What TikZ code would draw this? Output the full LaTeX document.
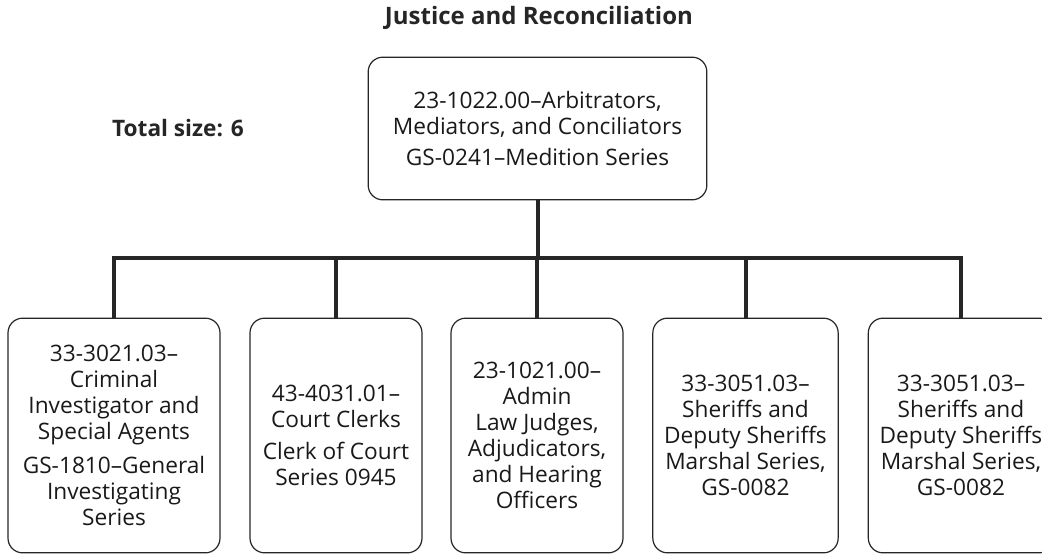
\documentclass[tikz,border=0pt]{standalone}
\usepackage{fontspec}
\setmainfont{Open Sans}
\usetikzlibrary{positioning}

\tikzset{
  jobbox/.style={draw=black!85, line width=0.9pt, rounded corners=11pt,
    align=center, inner sep=2pt, text=black!90, font=\fontsize{17}{19.5}\selectfont},
  link/.style={line width=3pt, draw=black!85},
  heading/.style={font=\fontsize{17}{19.5}\selectfont\bfseries, text=black!85}
}

\begin{document}
\begin{tikzpicture}[x=0.75pt,y=-0.75pt]
\useasboundingbox (0,0) rectangle (1042,554);

% Title and size
\node[heading, font=\fontsize{18}{20}\selectfont\bfseries] (title) at (539,18) {Justice and Reconciliation};
\node[heading] (size) at (178,128) {Total size: 6};

% Top box
\node[jobbox, minimum width=254pt, minimum height=107pt] (top) at (537.5,128.5)
  {23-1022.00--Arbitrators,\\ Mediators, and Conciliators\\[4pt] GS-0241--Medition Series};

% Lower boxes
\node[jobbox, minimum width=159pt, minimum height=176pt] (c1) at (114,435.5)
  {33-3021.03--\\ Criminal\\ Investigator and\\ Special Agents\\[6pt] GS-1810--General\\ Investigating\\ Series};
\node[jobbox, minimum width=129pt, minimum height=176pt] (c2) at (336,435.5)
  {43-4031.01--\\ Court Clerks\\[5pt] Clerk of Court\\ Series 0945};
\node[jobbox, minimum width=129pt, minimum height=176pt] (c3) at (537,435.5)
  {23-1021.00--\\ Admin\\ Law Judges,\\ Adjudicators,\\ and Hearing\\ Officers};
\node[jobbox, minimum width=139pt, minimum height=176pt] (c4) at (745.5,435.5)
  {33-3051.03--\\ Sheriffs and\\ Deputy Sheriffs\\ Marshal Series,\\ GS-0082};
\node[jobbox, minimum width=139pt, minimum height=176pt] (c5) at (961,435.5)
  {33-3051.03--\\ Sheriffs and\\ Deputy Sheriffs\\ Marshal Series,\\ GS-0082};

% Connectors
\coordinate (bus) at (538,258);
\draw[link] (top.south) -- (top.south |- bus);
\draw[link, line cap=rect] (c1.north |- bus) -- (c5.north |- bus);
\foreach \n in {c1,c2,c3,c4,c5}
  \draw[link] (\n.north |- bus) -- (\n.north);

\end{tikzpicture}
\end{document}
